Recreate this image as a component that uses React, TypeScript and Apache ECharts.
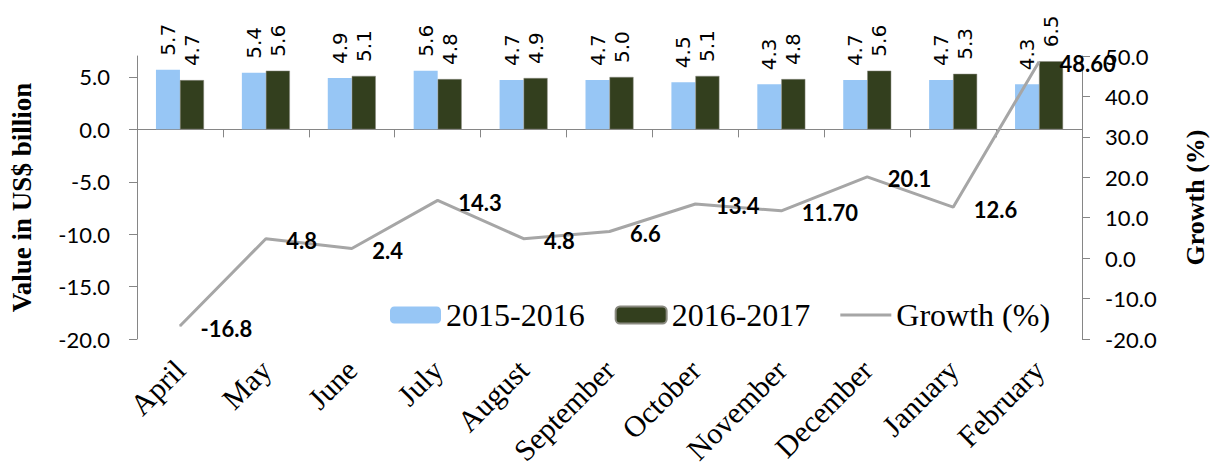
import React, { useEffect, useRef } from "react";
import * as echarts from "echarts";

const months = ["April", "May", "June", "July", "August", "September", "October", "November", "December", "January", "February"];
const values2015 = [5.7, 5.4, 4.9, 5.6, 4.7, 4.7, 4.5, 4.3, 4.7, 4.7, 4.3];
const values2016 = [4.7, 5.6, 5.1, 4.8, 4.9, 5.0, 5.1, 4.8, 5.6, 5.3, 6.5];
const growth = [-16.8, 4.8, 2.4, 14.3, 4.8, 6.6, 13.4, 11.7, 20.1, 12.6, 48.6];
const growthLabels = ["-16.8", "4.8", "2.4", "14.3", "4.8", "6.6", "13.4", "11.70", "20.1", "12.6", "48.60"];
const leftTicks = [-20, -15, -10, -5, 0, 5];

const SERIF = "'Liberation Serif', 'Times New Roman', serif";
const SANS = "Lato, 'Noto Sans', sans-serif";
const AXIS_COLOR = "#868686";
const LINE_COLOR = "#A6A6A6";

export default function App() {
  const ref = useRef<HTMLDivElement>(null);
  useEffect(() => {
    if (!ref.current) return;
    const chart = echarts.init(ref.current, undefined, { renderer: "svg" });
    const barLabel = {
      show: true,
      position: "top",
      rotate: 90,
      align: "left",
      verticalAlign: "middle",
      distance: 14,
      fontFamily: "'DejaVu Sans', sans-serif",
      fontSize: 20,
      color: "#000",
      formatter: (p: any) => Number(p.value).toFixed(1),
    };
    chart.setOption({
      animation: false,
      backgroundColor: "#fff",
      grid: { left: 137, right: 140, top: 56, bottom: 134, containLabel: false },
      legend: {
        left: 385,
        top: 294,
        itemWidth: 51,
        itemHeight: 17,
        itemGap: 30,
        symbolKeepAspect: true,
        textStyle: { fontFamily: SERIF, fontSize: 32, color: "#000" },
        data: [
          { name: "2015-2016" },
          { name: "2016-2017" },
          { name: "Growth (%)", icon: "path://M0,0 L51,0 L51,3 L0,3 Z" },
        ],
      },
      xAxis: [
        {
          type: "category",
          data: months,
          position: "bottom",
          axisLine: { show: false, onZero: false },
          axisTick: { show: false },
          axisLabel: {
            rotate: 45,
            margin: 26,
            interval: 0,
            fontFamily: SERIF,
            fontSize: 30,
            color: "#000",
          },
          splitLine: { show: false },
        },
        {
          type: "category",
          data: months,
          position: "top",
          axisLine: { show: true, onZero: true, onZeroAxisIndex: 0, lineStyle: { color: AXIS_COLOR, width: 1 } },
          axisTick: { show: true, inside: true, length: 8, lineStyle: { color: AXIS_COLOR } },
          axisLabel: { show: false },
          splitLine: { show: false },
        },
      ],
      yAxis: [
        {
          type: "value",
          min: -20,
          max: 7,
          interval: 5,
          position: "left",
          name: "Value in US$ billion",
          nameLocation: "middle",
          nameRotate: 90,
          nameGap: 102,
          nameTextStyle: { fontFamily: SERIF, fontSize: 27, fontWeight: "bold", color: "#000" },
          axisLine: { show: true, lineStyle: { color: AXIS_COLOR, width: 1 } },
          axisTick: { show: true, length: 8, customValues: leftTicks, lineStyle: { color: AXIS_COLOR } },
          axisLabel: {
            margin: 27,
            customValues: leftTicks,
            fontFamily: SANS,
            fontSize: 22,
            color: "#000",
            formatter: (v: number) => v.toFixed(1),
          },
          splitLine: { show: false },
        },
        {
          type: "value",
          min: -20,
          max: 50,
          interval: 10,
          position: "right",
          name: "Growth (%)",
          nameLocation: "middle",
          nameRotate: 90,
          nameGap: 100,
          nameTextStyle: { fontFamily: SERIF, fontSize: 26, fontWeight: "bold", color: "#000" },
          axisLine: { show: true, lineStyle: { color: AXIS_COLOR, width: 1 } },
          axisTick: { show: true, length: 8, lineStyle: { color: AXIS_COLOR } },
          axisLabel: {
            margin: 23,
            fontFamily: SANS,
            fontSize: 22,
            color: "#000",
            formatter: (v: number) => v.toFixed(1),
          },
          splitLine: { show: false },
        },
      ],
      series: [
        {
          name: "2015-2016",
          type: "bar",
          xAxisIndex: 0,
          yAxisIndex: 0,
          data: values2015,
          barWidth: 24,
          barGap: "0%",
          itemStyle: { color: "#97C6F5" },
          label: barLabel,
        },
        {
          name: "2016-2017",
          type: "bar",
          xAxisIndex: 0,
          yAxisIndex: 0,
          data: values2016,
          barWidth: 24,
          barGap: "0%",
          itemStyle: { color: "#333F1E", borderColor: "#8a8a80", borderWidth: 0.5 },
          label: barLabel,
        },
        {
          name: "Growth (%)",
          type: "line",
          xAxisIndex: 0,
          yAxisIndex: 1,
          data: growth,
          symbol: "circle",
          symbolSize: 1,
          showSymbol: true,
          lineStyle: { color: LINE_COLOR, width: 3 },
          itemStyle: { color: LINE_COLOR },
          label: {
            show: true,
            position: "right",
            distance: 20,
            offset: [0, 2],
            fontFamily: SANS,
            fontSize: 22,
            fontWeight: "bold",
            color: "#000",
            formatter: (p: any) => growthLabels[p.dataIndex],
          },
          z: 5,
        },
      ],
    });
    return () => chart.dispose();
  }, []);
  return <div ref={ref} style={{ position: "fixed", left: 0, top: 0, width: 1222, height: 473 }} />;
}
